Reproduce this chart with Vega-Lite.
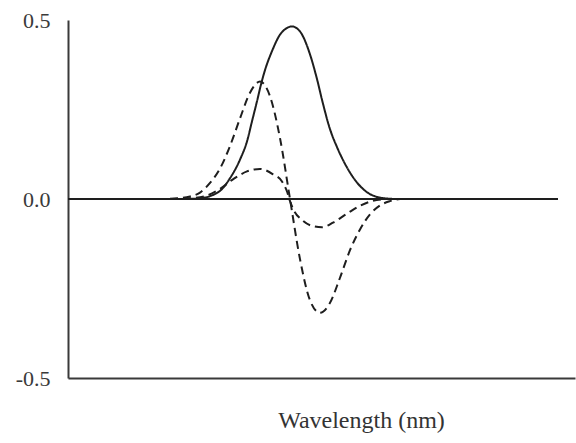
{
  "$schema": "https://vega.github.io/schema/vega-lite/v6.json",
  "width": 507,
  "height": 358,
  "autosize": {"type": "none"},
  "padding": {"left": 68, "top": 20, "right": 1, "bottom": 65},
  "background": "white",
  "config": {
    "font": "Liberation Serif",
    "view": {"stroke": null},
    "axis": {"grid": false}
  },
  "datasets": {
    "curves": [
      {"wavelength": 251, "absorbance": 0, "series": "spectrum"},
      {"wavelength": 261, "absorbance": 0.0005, "series": "spectrum"},
      {"wavelength": 266, "absorbance": 0.002, "series": "spectrum"},
      {"wavelength": 271, "absorbance": 0.008, "series": "spectrum"},
      {"wavelength": 277, "absorbance": 0.028, "series": "spectrum"},
      {"wavelength": 281, "absorbance": 0.058, "series": "spectrum"},
      {"wavelength": 286, "absorbance": 0.11, "series": "spectrum"},
      {"wavelength": 289.5, "absorbance": 0.161, "series": "spectrum"},
      {"wavelength": 292, "absorbance": 0.217, "series": "spectrum"},
      {"wavelength": 294.5, "absorbance": 0.273, "series": "spectrum"},
      {"wavelength": 296.5, "absorbance": 0.32, "series": "spectrum"},
      {"wavelength": 298.5, "absorbance": 0.36, "series": "spectrum"},
      {"wavelength": 302, "absorbance": 0.413, "series": "spectrum"},
      {"wavelength": 306, "absorbance": 0.459, "series": "spectrum"},
      {"wavelength": 309, "absorbance": 0.476, "series": "spectrum"},
      {"wavelength": 312, "absorbance": 0.482, "series": "spectrum"},
      {"wavelength": 316, "absorbance": 0.468, "series": "spectrum"},
      {"wavelength": 321, "absorbance": 0.404, "series": "spectrum"},
      {"wavelength": 324.5, "absorbance": 0.335, "series": "spectrum"},
      {"wavelength": 327.5, "absorbance": 0.266, "series": "spectrum"},
      {"wavelength": 331, "absorbance": 0.195, "series": "spectrum"},
      {"wavelength": 334.5, "absorbance": 0.145, "series": "spectrum"},
      {"wavelength": 339.5, "absorbance": 0.088, "series": "spectrum"},
      {"wavelength": 344.5, "absorbance": 0.046, "series": "spectrum"},
      {"wavelength": 349.5, "absorbance": 0.019, "series": "spectrum"},
      {"wavelength": 356, "absorbance": 0.004, "series": "spectrum"},
      {"wavelength": 363.5, "absorbance": 0, "series": "spectrum"},

      {"wavelength": 251, "absorbance": 0.001, "series": "derivative A"},
      {"wavelength": 261, "absorbance": 0.007, "series": "derivative A"},
      {"wavelength": 266, "absorbance": 0.018, "series": "derivative A"},
      {"wavelength": 271, "absorbance": 0.045, "series": "derivative A"},
      {"wavelength": 276, "absorbance": 0.085, "series": "derivative A"},
      {"wavelength": 281, "absorbance": 0.148, "series": "derivative A"},
      {"wavelength": 286, "absorbance": 0.225, "series": "derivative A"},
      {"wavelength": 291, "absorbance": 0.297, "series": "derivative A"},
      {"wavelength": 296, "absorbance": 0.328, "series": "derivative A"},
      {"wavelength": 301, "absorbance": 0.287, "series": "derivative A"},
      {"wavelength": 306, "absorbance": 0.17, "series": "derivative A"},
      {"wavelength": 311, "absorbance": 0, "series": "derivative A"},
      {"wavelength": 316, "absorbance": -0.168, "series": "derivative A"},
      {"wavelength": 321, "absorbance": -0.283, "series": "derivative A"},
      {"wavelength": 326, "absorbance": -0.318, "series": "derivative A"},
      {"wavelength": 331, "absorbance": -0.29, "series": "derivative A"},
      {"wavelength": 336, "absorbance": -0.22, "series": "derivative A"},
      {"wavelength": 341, "absorbance": -0.143, "series": "derivative A"},
      {"wavelength": 346, "absorbance": -0.085, "series": "derivative A"},
      {"wavelength": 351, "absorbance": -0.043, "series": "derivative A"},
      {"wavelength": 356, "absorbance": -0.018, "series": "derivative A"},
      {"wavelength": 361, "absorbance": -0.006, "series": "derivative A"},
      {"wavelength": 366, "absorbance": 0, "series": "derivative A"},

      {"wavelength": 251, "absorbance": 0, "series": "derivative B"},
      {"wavelength": 261, "absorbance": 0.002, "series": "derivative B"},
      {"wavelength": 268.5, "absorbance": 0.008, "series": "derivative B"},
      {"wavelength": 276, "absorbance": 0.028, "series": "derivative B"},
      {"wavelength": 282.5, "absorbance": 0.055, "series": "derivative B"},
      {"wavelength": 289.5, "absorbance": 0.077, "series": "derivative B"},
      {"wavelength": 296, "absorbance": 0.084, "series": "derivative B"},
      {"wavelength": 302.5, "absorbance": 0.069, "series": "derivative B"},
      {"wavelength": 307, "absorbance": 0.049, "series": "derivative B"},
      {"wavelength": 309.5, "absorbance": 0.021, "series": "derivative B"},
      {"wavelength": 311, "absorbance": -0.006, "series": "derivative B"},
      {"wavelength": 312.5, "absorbance": -0.027, "series": "derivative B"},
      {"wavelength": 317.5, "absorbance": -0.061, "series": "derivative B"},
      {"wavelength": 322.5, "absorbance": -0.076, "series": "derivative B"},
      {"wavelength": 327, "absorbance": -0.079, "series": "derivative B"},
      {"wavelength": 332.5, "absorbance": -0.066, "series": "derivative B"},
      {"wavelength": 339.5, "absorbance": -0.041, "series": "derivative B"},
      {"wavelength": 346, "absorbance": -0.019, "series": "derivative B"},
      {"wavelength": 352.5, "absorbance": -0.005, "series": "derivative B"},
      {"wavelength": 358.5, "absorbance": 0, "series": "derivative B"}
    ],
    "baseline": [
      {"wavelength": 200, "absorbance": 0},
      {"wavelength": 445, "absorbance": 0}
    ]
  },
  "layer": [
    {
      "data": {"name": "curves"},
      "mark": {"type": "line", "color": "#1e1e1e", "strokeWidth": 2, "interpolate": "monotone"},
      "encoding": {
        "x": {
          "field": "wavelength",
          "type": "quantitative",
          "scale": {"domain": [200, 453.5], "nice": false, "zero": false},
          "axis": {
            "title": "Wavelength (nm)",
            "labels": false,
            "ticks": false,
            "domainColor": "#3a3a3a",
            "domainWidth": 2,
            "titleFont": "Liberation Serif",
            "titleFontSize": 24,
            "titleFontWeight": "normal",
            "titleColor": "#333333",
            "titleX": 293,
            "titleY": 49,
            "titleAlign": "center",
            "titleBaseline": "alphabetic"
          }
        },
        "y": {
          "field": "absorbance",
          "type": "quantitative",
          "scale": {"domain": [-0.5, 0.5], "nice": false, "zero": false},
          "axis": {
            "title": null,
            "values": [-0.5, 0, 0.5],
            "format": ".1f",
            "labelExpr": "replace(datum.label, '−', '-')",
            "ticks": false,
            "labelPadding": 18,
            "labelFont": "Liberation Serif",
            "labelFontSize": 22,
            "labelColor": "#3a3a3a",
            "domainColor": "#3a3a3a",
            "domainWidth": 2
          }
        },
        "detail": {"field": "series", "type": "nominal"},
        "strokeDash": {
          "field": "series",
          "type": "nominal",
          "scale": {"domain": ["spectrum", "derivative A", "derivative B"], "range": [[1, 0], [8, 5], [8, 5]]},
          "legend": null
        }
      }
    },
    {
      "data": {"name": "baseline"},
      "mark": {"type": "line", "color": "#1e1e1e", "strokeWidth": 2.2},
      "encoding": {
        "x": {"field": "wavelength", "type": "quantitative"},
        "y": {"field": "absorbance", "type": "quantitative"}
      }
    }
  ]
}
